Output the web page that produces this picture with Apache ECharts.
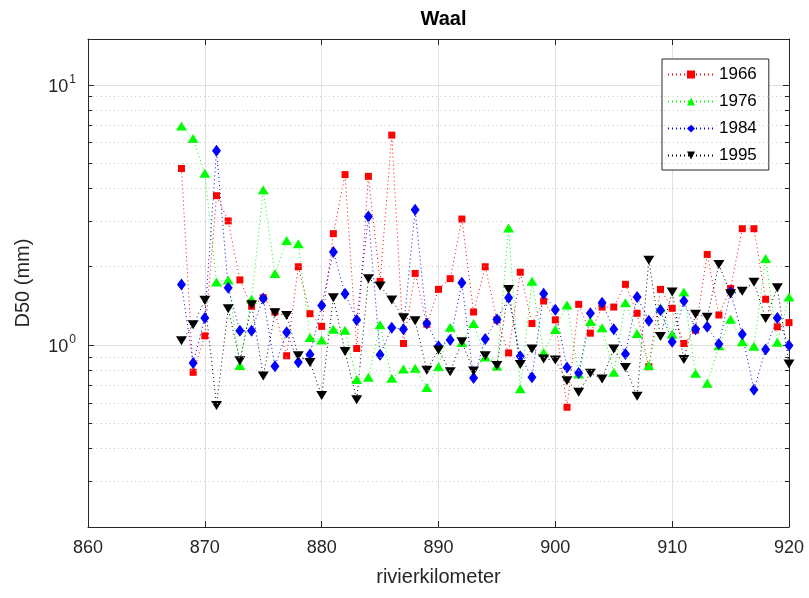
<!DOCTYPE html>
<html><head><meta charset="utf-8">
<script src="https://cdn.jsdelivr.net/npm/echarts@6/dist/echarts.min.js"></script>
<style>html,body{margin:0;padding:0;background:#fff}#c{width:809px;height:598px}</style>
</head><body><div id="c"></div>
<script>
const km = [868,869,870,871,872,873,874,875,876,877,878,879,880,881,882,883,884,885,886,887,888,889,890,891,892,893,894,895,896,897,898,899,900,901,902,903,904,905,906,907,908,909,910,911,912,913,914,915,916,917,918,919,920];
const d1966 = [4.77,0.786,1.085,3.75,3.0,1.78,1.41,1.52,1.34,0.91,2.0,1.32,1.18,2.68,4.52,0.97,4.45,1.757,6.41,1.014,1.885,1.203,1.637,1.80,3.05,1.34,2.0,1.25,0.933,1.906,1.21,1.477,1.25,0.577,1.434,1.111,1.40,1.40,1.712,1.325,0.826,1.637,1.385,1.014,1.141,2.23,1.305,1.65,2.80,2.80,1.50,1.175,1.22];
const d1976 = [6.95,6.22,4.57,1.746,1.78,0.834,1.50,3.95,1.885,2.52,2.45,1.07,1.045,1.15,1.141,0.737,0.752,1.196,0.745,0.81,0.814,0.687,0.826,1.17,1.023,1.21,0.90,0.83,2.82,0.679,1.76,0.937,1.147,1.426,0.775,1.231,1.167,0.786,1.455,1.107,0.834,1.39,1.10,1.60,0.779,0.713,0.994,1.257,1.03,0.99,2.15,1.025,1.53];
const d1984 = [1.71,0.853,1.27,5.58,1.66,1.134,1.134,1.51,0.83,1.12,0.86,0.92,1.42,2.28,1.575,1.249,3.12,0.918,1.167,1.151,3.31,1.21,0.99,1.045,1.735,0.748,1.055,1.255,1.52,0.906,0.752,1.575,1.368,0.821,0.782,1.325,1.455,1.151,0.924,1.53,1.239,1.36,1.03,1.477,1.15,1.175,1.009,1.60,1.10,0.673,0.962,1.27,0.997];
const d1995 = [1.04,1.196,1.486,0.586,1.38,0.871,1.43,0.76,1.33,1.30,0.91,0.858,0.64,1.52,0.945,0.616,1.80,1.686,1.49,1.275,1.239,0.80,0.958,0.79,1.03,0.795,0.91,0.834,1.637,0.843,0.965,0.884,0.876,0.73,0.659,0.779,0.741,0.965,0.821,0.636,2.12,1.08,1.60,0.88,1.314,1.28,2.04,1.575,1.61,1.745,1.266,1.66,0.846];
const years = ['1966','1976','1984','1995'];
const xTicks = [860,870,880,890,900,910,920];
const minorVals = [0.3,0.4,0.5,0.6,0.7,0.8,0.9,2,3,4,5,6,7,8,9];

const FONT = '"Liberation Sans", Arial, Helvetica, sans-serif';
const AX = '#262626';
const pairs = arr => arr.map((v,i)=>[km[i], v]);

const mkSeries = (name, data, color, symbol, size, rot) => ({
  name, type:'line', data: pairs(data), xAxisIndex:0, yAxisIndex:0,
  symbol, symbolSize:size, symbolRotate: rot||0,
  lineStyle:{color, width:1, type:[1,3]},
  itemStyle:{color, borderWidth:0},
  z: 3, animation:false
});

const minorGrid = minorVals.map(v=>({yAxis:v}));
const minorTicks = [];
minorVals.forEach(v=>{
  minorTicks.push([{coord:[860,v]},{coord:[860.34,v]}]);
  minorTicks.push([{coord:[919.66,v]},{coord:[920,v]}]);
});

const chart = echarts.init(document.getElementById('c'), null, {renderer:'canvas'});
chart.setOption({
  animation:false,
  backgroundColor:'#fff',
  textStyle:{fontFamily:FONT},
  title:{text:'Waal', left:438.5, textAlign:'center', top:4,
    textStyle:{fontSize:20, fontWeight:'bold', color:'#000', fontFamily:FONT}},
  grid:{left:88, right:20, top:39, bottom:71, containLabel:false},
  legend:{data:years, orient:'vertical', left:662, top:59,
    itemWidth:46, itemHeight:10, itemGap:10, padding:[7,12,6,5],
    borderColor:AX, borderWidth:1, backgroundColor:'#fff',
    textStyle:{fontSize:17, color:'#000', fontFamily:FONT}},
  xAxis:[
    {type:'value', position:'bottom', min:860, max:920, interval:10,
     axisLine:{show:true, lineStyle:{color:AX, width:1}},
     axisTick:{show:true, inside:true, length:6, lineStyle:{color:AX}},
     axisLabel:{fontSize:18, color:AX, margin:12, fontFamily:FONT,
       formatter: v => xTicks.indexOf(v) >= 0 ? String(v) : ''},
     splitLine:{show:true, lineStyle:{color:'#e0e0e0', width:1}},
     name:'rivierkilometer', nameLocation:'middle', nameGap:40,
     nameTextStyle:{fontSize:20, color:AX, fontFamily:FONT}},
    {type:'value', position:'top', min:860, max:920, interval:10,
     axisLine:{show:true, onZero:false, lineStyle:{color:AX, width:1}},
     axisTick:{show:true, inside:true, length:6, lineStyle:{color:AX}},
     axisLabel:{show:false}, splitLine:{show:false}}
  ],
  yAxis:[
    {type:'log', logBase:10, min:0.2, max:15, position:'left',
     axisLine:{show:true, lineStyle:{color:AX, width:1}},
     axisTick:{show:true, inside:true, length:6, lineStyle:{color:AX}},
     axisLabel:{show:true, margin:12, color:AX, showMinLabel:true, showMaxLabel:true,
       formatter: v => { const l = Math.log10(v); const e = Math.round(l);
         if (Math.abs(l-e) > 1e-6) return ''; return '{b|10}{s|' + e + '}'; },
       rich:{ b:{fontSize:18, color:AX, fontFamily:FONT, verticalAlign:'bottom'},
              s:{fontSize:12, color:AX, fontFamily:FONT, verticalAlign:'bottom', padding:[0,0,10,1]} }},
     splitLine:{show:true, lineStyle:{color:'#e0e0e0', width:1}},
     name:'D50 (mm)', nameLocation:'middle', nameGap:55,
     nameTextStyle:{fontSize:20, color:AX, fontFamily:FONT}},
    {type:'log', logBase:10, min:0.2, max:15, position:'right',
     axisLine:{show:true, onZero:false, lineStyle:{color:AX, width:1}},
     axisTick:{show:true, inside:true, length:6, lineStyle:{color:AX}},
     axisLabel:{show:false}, splitLine:{show:false}}
  ],
  series:[
    {name:'grid', type:'line', data:[], xAxisIndex:0, yAxisIndex:0, z:1, silent:true,
     markLine:{silent:true, symbol:'none', animation:false, label:{show:false},
       lineStyle:{color:'#c4c4c4', width:1, type:[1,3.3]},
       emphasis:{disabled:true},
       data: minorGrid}},
    {name:'ticks', type:'line', data:[], xAxisIndex:0, yAxisIndex:0, z:4, silent:true,
     markLine:{silent:true, symbol:'none', animation:false, label:{show:false},
       lineStyle:{color:AX, width:1, type:'solid'},
       emphasis:{disabled:true},
       data: minorTicks}},
    mkSeries('1966', d1966, '#ff0000', 'rect', 7),
    mkSeries('1976', d1976, '#00ff00', 'triangle', [11,9]),
    mkSeries('1984', d1984, '#0000ff', 'diamond', [9,12]),
    mkSeries('1995', d1995, '#000000', 'triangle', [11,9], 180)
  ]
});
</script></body></html>
